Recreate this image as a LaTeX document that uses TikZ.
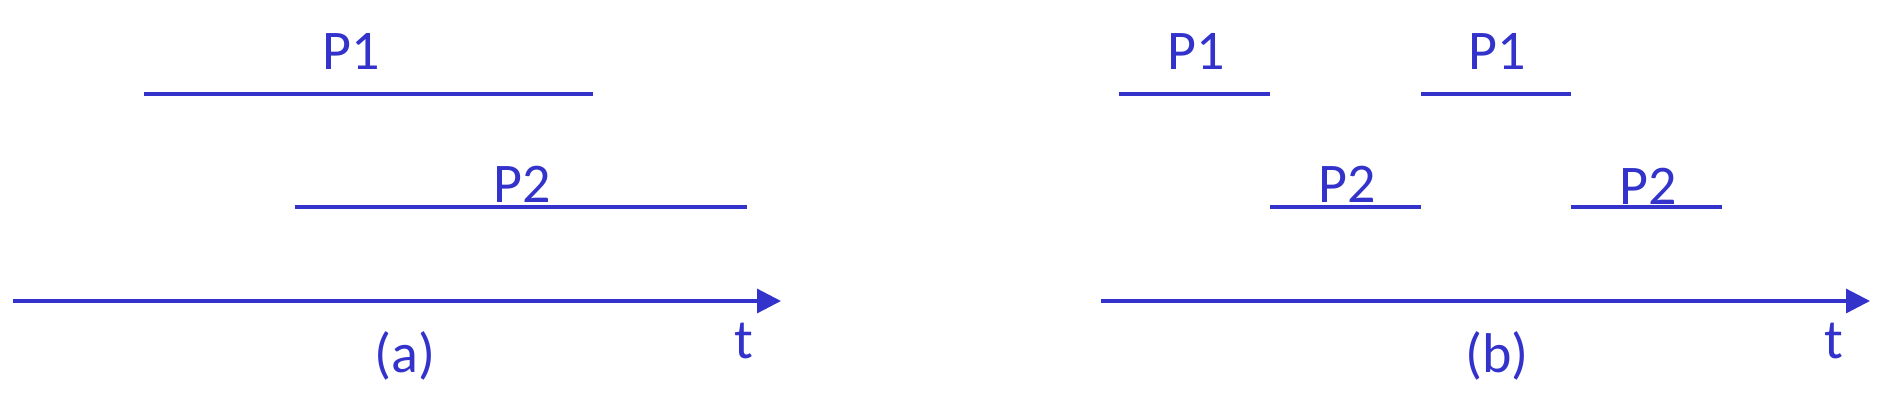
\documentclass[tikz,border=0pt]{standalone}
\usepackage{fontspec}
\setmainfont{Carlito}
\usepackage{xcolor}
\usepackage{tikz}
\usetikzlibrary{arrows.meta,positioning}
\definecolor{procblue}{RGB}{51,51,204}

\begin{document}
\begin{tikzpicture}[
    x=1pt, y=-1pt,
    seg/.style={procblue, line width=3.2pt},
    axis/.style={procblue, line width=3.2pt, -{Triangle[length=24pt,width=24pt]}},
    lbl/.style={text=procblue, font=\fontsize{56}{64}\selectfont,
                anchor=base, inner sep=0pt}
]
\useasboundingbox (0,0) rectangle (1877,413);

% (a) both processes run at once
\coordinate (a1s) at (144,94);
\coordinate (a1e) at (593,94);
\coordinate (a2s) at (295,207);
\coordinate (a2e) at (747,207);
\coordinate (ta0) at (13,301);
\coordinate (ta1) at (781,301);
\draw[seg] (a1s) -- (a1e);
\draw[seg] (a2s) -- (a2e);
\draw[axis] (ta0) -- (ta1);
\node[lbl] (pa1) at (351,69) {P1};
\node[lbl] (pa2) at (522,202) {P2};
\node[lbl] (capa) at (405,372) {(a)};
\node[lbl] (tla) at (744,358) {t};

% (b) processes take turns
\coordinate (b1s) at (1119,94);
\coordinate (b1e) at (1270,94);
\coordinate (b2s) at (1270,207);
\coordinate (b2e) at (1421,207);
\coordinate (b3s) at (1421,94);
\coordinate (b3e) at (1571,94);
\coordinate (b4s) at (1571,207);
\coordinate (b4e) at (1722,207);
\coordinate (tb0) at (1101,301);
\coordinate (tb1) at (1870,301);
\draw[seg] (b1s) -- (b1e);
\draw[seg] (b2s) -- (b2e);
\draw[seg] (b3s) -- (b3e);
\draw[seg] (b4s) -- (b4e);
\draw[axis] (tb0) -- (tb1);
\node[lbl] (pb1) at (1196,69) {P1};
\node[lbl] (pb2) at (1347,202) {P2};
\node[lbl] (pb3) at (1497,69) {P1};
\node[lbl] (pb4) at (1648,204) {P2};
\node[lbl] (capb) at (1497,372) {(b)};
\node[lbl] (tlb) at (1834,358) {t};
\end{tikzpicture}
\end{document}
